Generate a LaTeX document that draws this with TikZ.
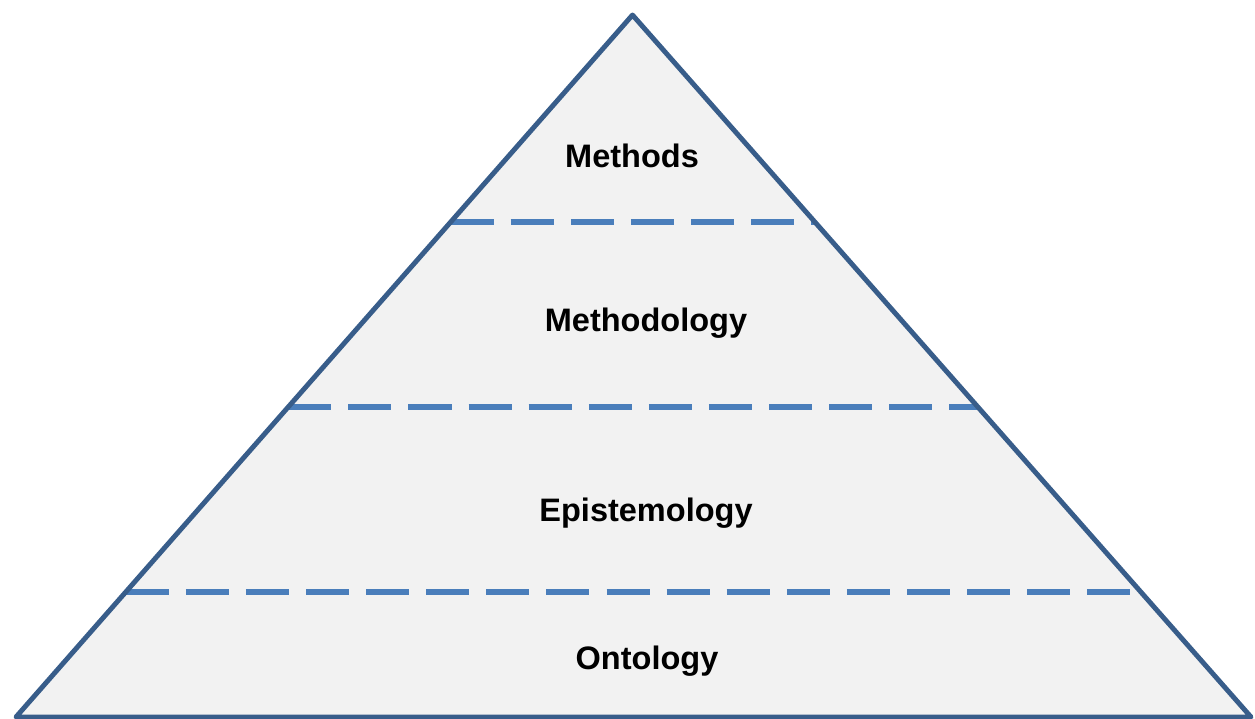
\documentclass[tikz,border=0pt]{standalone}
\usepackage{fontspec}
\setmainfont{Liberation Sans}
\usetikzlibrary{calc}

\definecolor{edgeblue}{HTML}{385D8A}
\definecolor{dashblue}{HTML}{4A7EBB}
\definecolor{layerfill}{HTML}{F2F2F2}

\tikzset{
  level/.style={font=\fontsize{18.5}{22}\selectfont\bfseries},
  divider/.style={dashblue, line width=3.1pt, dash pattern=on 24.5pt off 9.7pt}
}

\begin{document}
\begin{tikzpicture}

\useasboundingbox (0,0) rectangle (25.1,14.38);

% Corners
\coordinate (apex) at (12.65,14.08);
\coordinate (bl) at (0.32,0.04);
\coordinate (br) at (25.02,0.04);

% Triangle fill
\fill[layerfill] (bl) -- (apex) -- (br) -- cycle;

% Dividers
\foreach \t/\n in {0.705/a, 0.4416/b, 0.178/c} {
  \coordinate (l\n) at ($(bl)!\t!(apex)$);
  \coordinate (r\n) at ($(br)!\t!(apex)$);
  \draw[divider] (l\n) -- (r\n);
}

% Outline
\draw[edgeblue, line width=2.8pt, line join=round] (bl) -- (apex) -- (br) -- cycle;

% Labels
\node[level] (methods) at (12.64,11.26) {Methods};
\node[level] (methodology) at (12.92,7.92) {Methodology};
\node[level] (epistemology) at (12.92,4.12) {Epistemology};
\node[level] (ontology) at (12.94,1.16) {Ontology};

\end{tikzpicture}
\end{document}
